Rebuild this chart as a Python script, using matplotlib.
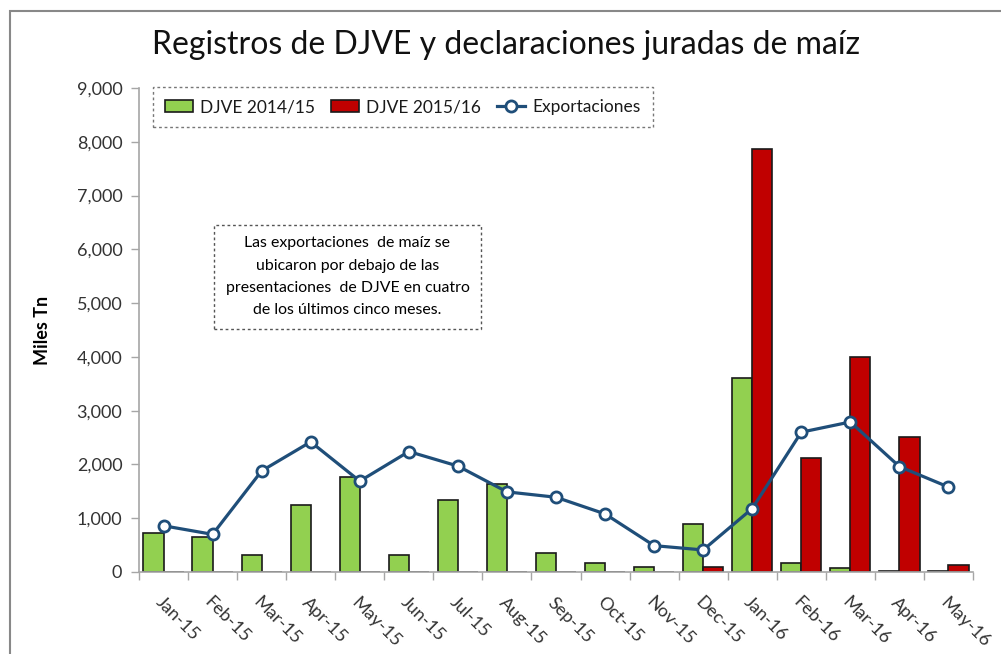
import numpy as np
import matplotlib
matplotlib.use("Agg")
import matplotlib.pyplot as plt
from matplotlib.patches import Rectangle
from matplotlib.ticker import FuncFormatter

# data (miles de toneladas)
months = ["Jan-15", "Feb-15", "Mar-15", "Apr-15", "May-15", "Jun-15", "Jul-15", "Aug-15",
          "Sep-15", "Oct-15", "Nov-15", "Dec-15", "Jan-16", "Feb-16", "Mar-16", "Apr-16", "May-16"]
djve_1415 = [730, 660, 310, 1240, 1770, 310, 1340, 1640, 345, 160, 100, 890, 3600, 160, 70, 15, 10]
djve_1516 = [0, 0, 0, 0, 0, 0, 0, 0, 0, 0, 0, 90, 7870, 2120, 3990, 2510, 130]
exportaciones = [860, 700, 1880, 2420, 1690, 2240, 1970, 1490, 1390, 1080, 490, 410, 1180, 2600, 2790, 1960, 1580]

green = "#92D050"
red = "#C00000"
blue = "#1F4E79"
grey = "#A6A6A6"

plt.rcParams['font.family'] = ['Lato', 'DejaVu Sans']

fig = plt.figure(figsize=(10.01, 6.54), dpi=100)
ax = fig.add_axes([139 / 1001, 1 - 572 / 654, (973 - 139) / 1001, (572 - 88) / 654])

x = np.arange(len(months))
w = 0.41
b1 = ax.bar(x - w / 2, djve_1415, w, color=green, edgecolor="#1a1a1a", linewidth=1.2, label="DJVE 2014/15", zorder=2)
b2 = ax.bar(x + w / 2, djve_1516, w, color=red, edgecolor="#1a1a1a", linewidth=1.2, label="DJVE 2015/16", zorder=2)
ln, = ax.plot(x, exportaciones, color=blue, linewidth=2.3, marker="o", markersize=8,
              markerfacecolor="white", markeredgecolor=blue, markeredgewidth=2, label="Exportaciones", zorder=3)

ax.set_xlim(-0.5, len(months) - 0.5)
ax.set_ylim(0, 9000)
ax.set_yticks(np.arange(0, 9001, 1000))
ax.yaxis.set_major_formatter(FuncFormatter(lambda v, p: f"{int(v):,}"))
ax.tick_params(axis="y", labelsize=13, color=grey, length=6, width=1, pad=6, labelcolor="#333333")

# category boundaries get the ticks, labels go in the middle
ax.set_xticks(np.arange(-0.5, len(months), 1))
ax.set_xticklabels([])
ax.tick_params(axis="x", color=grey, length=6, width=1)
ax.set_xticks(x, minor=True)
ax.set_xticklabels(months, minor=True, rotation=-45, ha="left", va="top",
                   rotation_mode="anchor", fontsize=13, color="#333333")
ax.tick_params(axis="x", which="minor", length=0, pad=16)

for s in ["top", "right"]:
    ax.spines[s].set_visible(False)
for s in ["left", "bottom"]:
    ax.spines[s].set_color(grey)
    ax.spines[s].set_linewidth(1.2)

ax.set_ylabel("Miles Tn", fontsize=13, fontweight="bold")
ax.yaxis.set_label_coords(-0.106, 0.5)

fig.text(0.505, 1 - 45 / 654, "Registros de DJVE y declaraciones juradas de maíz",
         fontsize=23, ha="center", va="center", color="#111111")

leg = ax.legend([b1, b2, ln], ["DJVE 2014/15", "DJVE 2015/16", "Exportaciones"],
                loc="upper left", bbox_to_anchor=((153 - 139) / 834, 1.002), ncol=3, fontsize=12.5,
                frameon=True, fancybox=False, handlelength=1.6, handletextpad=0.4, columnspacing=0.95,
                borderpad=0.7, borderaxespad=0)
leg.get_frame().set_edgecolor("#555555")
leg.get_frame().set_linestyle((0, (2, 2)))
leg.get_frame().set_linewidth(1)
for t in leg.get_texts():
    t.set_color("#1a1a1a")

ax.text(0.25, 0.61, "Las exportaciones  de maíz se\nubicaron por debajo de las\npresentaciones  de DJVE en cuatro\nde los últimos cinco meses.",
        transform=ax.transAxes, ha="center", va="center", fontsize=11.4, linespacing=1.75,
        bbox=dict(boxstyle="square,pad=0.75", facecolor="white", edgecolor="#555555",
                  linestyle=(0, (2, 2)), linewidth=1))

# outer chart border (cut off on right and bottom like the source)
fig.patches.append(Rectangle((10 / 1001, -0.05), 1.1, 1 - 11 / 654 + 0.05, transform=fig.transFigure,
                             fill=False, edgecolor="#888888", linewidth=1.5))

fig.savefig("out.png", dpi=100)
